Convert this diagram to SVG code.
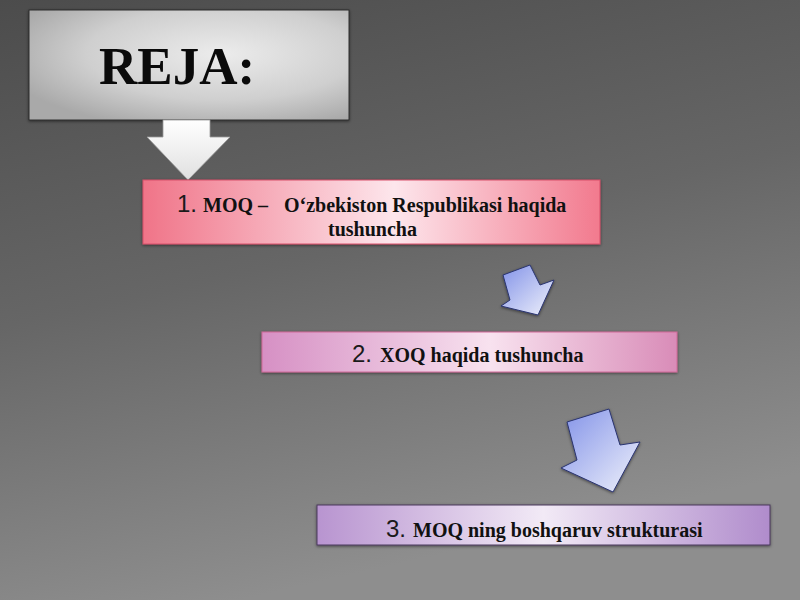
<svg xmlns="http://www.w3.org/2000/svg" width="800" height="600" viewBox="0 0 800 600">
  <defs>
    <linearGradient id="bg" x1="0" y1="0" x2="0.3" y2="1">
      <stop offset="0" stop-color="#4c4c4c"/>
      <stop offset="0.5" stop-color="#666666"/>
      <stop offset="1" stop-color="#8e8e8e"/>
    </linearGradient>
    <radialGradient id="gRej" cx="0.6" cy="0.4" r="0.7">
      <stop offset="0" stop-color="#ececec"/>
      <stop offset="0.6" stop-color="#cfcfcf"/>
      <stop offset="1" stop-color="#a9a9a9"/>
    </radialGradient>
    <linearGradient id="g1" x1="0" y1="0" x2="1" y2="0">
      <stop offset="0" stop-color="#f07488"/>
      <stop offset="0.55" stop-color="#fde6ec"/>
      <stop offset="1" stop-color="#f27a8e"/>
    </linearGradient>
    <linearGradient id="g2" x1="0" y1="0" x2="1" y2="0">
      <stop offset="0" stop-color="#d690c4"/>
      <stop offset="0.55" stop-color="#f8e2ef"/>
      <stop offset="1" stop-color="#d98cb8"/>
    </linearGradient>
    <linearGradient id="g3" x1="0" y1="0" x2="1" y2="0">
      <stop offset="0" stop-color="#b894d0"/>
      <stop offset="0.5" stop-color="#f2eaf6"/>
      <stop offset="1" stop-color="#b08ccc"/>
    </linearGradient>
    <linearGradient id="gW" x1="0" y1="0" x2="0" y2="1">
      <stop offset="0" stop-color="#ffffff"/>
      <stop offset="1" stop-color="#e0e0e0"/>
    </linearGradient>
    <linearGradient id="gB" x1="0" y1="0" x2="1" y2="1">
      <stop offset="0" stop-color="#8292e8"/>
      <stop offset="1" stop-color="#f0f2fb"/>
    </linearGradient>
    <filter id="sh" x="-20%" y="-20%" width="140%" height="140%">
      <feDropShadow dx="0" dy="1" stdDeviation="1.5" flood-color="#000" flood-opacity="0.5"/>
    </filter>
  </defs>
  <style>
    .t { font-family: "Liberation Serif", "Times New Roman", serif; font-weight: bold; font-size: 20px; fill: #111; }
    .n { font-family: "Liberation Sans", Arial, sans-serif; font-size: 24px; fill: #1a1a1a; }
    .blue { fill: url(#gB); stroke: #2a3470; stroke-width: 1; filter: url(#sh); }
  </style>
  <rect width="800" height="600" fill="url(#bg)"/>

  <g id="reja">
    <rect x="29" y="10" width="320" height="110" fill="url(#gRej)" stroke="#2e2e2e" stroke-width="1" filter="url(#sh)"/>
    <text x="99" y="84" font-family="Liberation Serif, Times New Roman, serif" font-weight="bold" font-size="53" fill="#0a0a0a">REJA:</text>
  </g>

  <g id="connectors">
    <polygon points="163,120 210,120 210,137 230,137 188,180 147,137 163,137" fill="url(#gW)" stroke="#9a9a9a" stroke-width="0.8"/>
    <polygon class="blue" points="503,275 530,265 540,285 554,280 538,315 501,306 510,300"/>
    <polygon class="blue" points="567,422 609,409 620,445 640,442 613,492 561,468 577,460"/>
  </g>

  <g id="item1">
    <rect x="143" y="180" width="457" height="64" fill="url(#g1)" stroke="#d8506a" stroke-width="1" filter="url(#sh)"/>
    <text class="n" x="177" y="212">1.</text>
    <text class="t" x="203" y="212">MOQ –</text>
    <text class="t" x="284" y="212">O‘zbekiston Respublikasi haqida</text>
    <text class="t" x="328" y="236">tushuncha</text>
  </g>

  <g id="item2">
    <rect x="262" y="332" width="415" height="40" fill="url(#g2)" stroke="#d06898" stroke-width="1" filter="url(#sh)"/>
    <text class="n" x="352" y="362">2.</text>
    <text class="t" x="380" y="362">XOQ haqida tushuncha</text>
  </g>

  <g id="item3">
    <rect x="317" y="505" width="453" height="40" fill="url(#g3)" stroke="#4a3a5c" stroke-width="1" filter="url(#sh)"/>
    <text class="n" x="386" y="537">3.</text>
    <text class="t" x="413" y="537">MOQ ning boshqaruv strukturasi</text>
  </g>
</svg>
